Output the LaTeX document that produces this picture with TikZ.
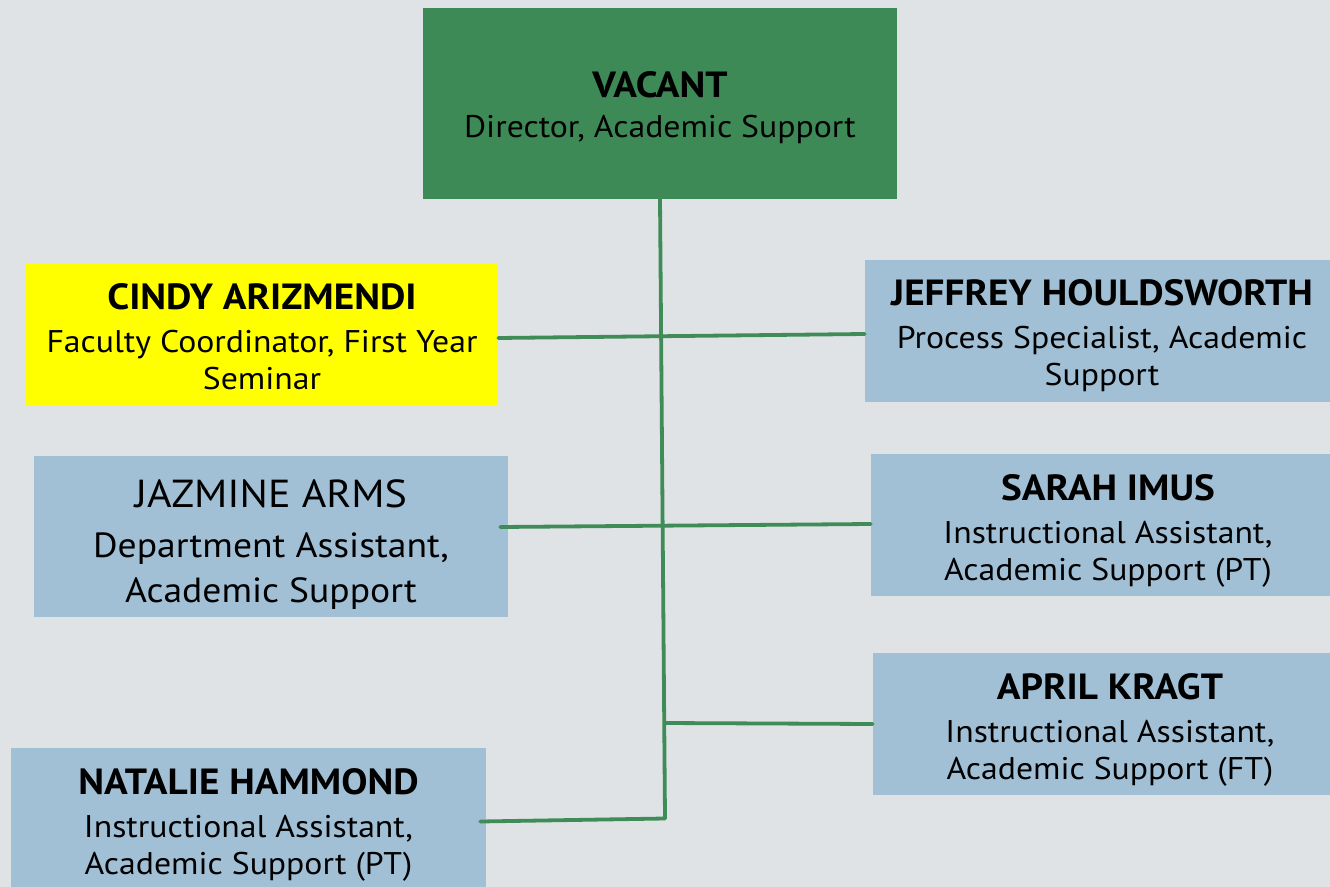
\documentclass[tikz,border=0pt]{standalone}
\usepackage{fontspec}
\setmainfont{PT Sans}[FakeStretch=1.077]
\definecolor{bgc}{RGB}{223,227,230}
\definecolor{boxgreen}{RGB}{62,138,87}
\definecolor{linegreen}{RGB}{64,140,88}
\definecolor{boxblue}{RGB}{161,192,214}
\definecolor{boxyellow}{RGB}{255,255,0}
\newcommand\subsz{\fontsize{23.5}{27.75}\selectfont}
\newcommand\namesz{\fontsize{27.3}{30}\selectfont\bfseries}
\newcommand\jsubsz{\fontsize{26.2}{33.75}\selectfont}
\newcommand\jnamesz{\fontsize{29.3}{33}\selectfont}
\tikzset{
  card/.style={rectangle, inner sep=0pt, minimum width=474*0.75pt},
  bluecard/.style={card, fill=boxblue},
  cardtext/.style={inner sep=0pt, align=center, text=black, font=\subsz},
  conn/.style={draw=linegreen, line width=3.8*0.75pt, line cap=round}
}
\begin{document}
\begin{tikzpicture}[x=0.75pt,y=-0.75pt]
\useasboundingbox (0,0) rectangle (1330,887);
\clip (0,0) rectangle (1330,887);
\fill[bgc] (0,0) rectangle (1330,887);

% boxes
\node[card, fill=boxgreen, minimum height=191*0.75pt] (vac) at (660,103.5) {};
\node[card, fill=boxyellow, minimum width=472*0.75pt, minimum height=142*0.75pt] (cindy) at (262,335) {};
\node[bluecard, minimum height=161*0.75pt] (jaz) at (271,536.5) {};
\node[bluecard, minimum width=475*0.75pt, minimum height=144*0.75pt] (nat) at (248.5,820) {};
\node[bluecard, minimum height=142*0.75pt] (jeff) at (1102,331) {};
\node[bluecard, minimum height=142*0.75pt] (sarah) at (1108,525) {};
\node[bluecard, minimum height=142*0.75pt] (april) at (1110,724) {};

% texts
\node[cardtext] (vacT) at ([yshift=-4.5*0.75pt]vac.center)
  {{\namesz VACANT}\\[2.2pt]Director, Academic Support};
\node[cardtext] (cindyT) at ([yshift=-2*0.75pt]cindy.center)
  {{\namesz CINDY ARIZMENDI}\\[4.5pt]Faculty Coordinator, First Year\\Seminar};
\node[cardtext, font=\jsubsz] (jazT) at ([yshift=-8*0.75pt]jaz.center)
  {{\jnamesz JAZMINE ARMS}\\[3.75pt]Department Assistant,\\Academic Support};
\node[cardtext] (natT) at ([yshift=-5*0.75pt]nat.center)
  {{\namesz NATALIE HAMMOND}\\[4.5pt]Instructional Assistant,\\Academic Support (PT)};
\node[cardtext] (jeffT) at ([yshift=-5*0.75pt]jeff.center)
  {{\namesz JEFFREY HOULDSWORTH}\\[4.5pt]Process Specialist, Academic\\Support};
\node[cardtext] (sarahT) at ([yshift=-6*0.75pt]sarah.center)
  {{\namesz SARAH IMUS}\\[4.5pt]Instructional Assistant,\\Academic Support (PT)};
\node[cardtext] (aprilT) at ([yshift=-6*0.75pt]april.center)
  {{\namesz APRIL KRAGT}\\[4.5pt]Instructional Assistant,\\Academic Support (FT)};

% connectors
\coordinate (bend) at (665,818.5);
\coordinate (aprilj) at (664.5,723);
\draw[conn] (vac.south) -- (bend);
\draw[conn] ([yshift=-3*0.75pt]cindy.east) -- ([yshift=-3*0.75pt]jeff.west);
\draw[conn] ([xshift=-8*0.75pt,yshift=9.5*0.75pt]jaz.east) -- ([yshift=1*0.75pt]sarah.west);
\draw[conn] (aprilj) -- (april.west);
\draw[conn] ([xshift=-6*0.75pt,yshift=-1.5*0.75pt]nat.east) -- (bend);
\end{tikzpicture}
\end{document}
